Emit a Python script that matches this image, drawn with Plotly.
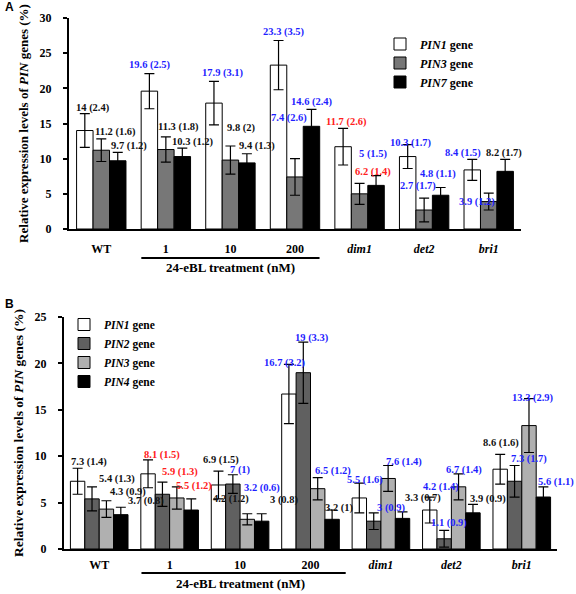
import plotly.graph_objects as go

# ---------------- data ----------------
groups = ["WT", "1", "10", "200", "dim1", "det2", "bri1"]
group_ticks = ["WT", "1", "10", "200", "<i>dim1</i>", "<i>det2</i>", "<i>bri1</i>"]

# Panel A: PIN1, PIN3, PIN7 (mean, SD)
a_pin1 = [14, 19.6, 17.9, 23.3, 11.7, 10.3, 8.4]
a_pin1_sd = [2.4, 2.5, 3.1, 3.5, 2.6, 1.7, 1.5]
a_pin3 = [11.2, 11.3, 9.8, 7.4, 5, 2.7, 3.9]
a_pin3_sd = [1.6, 1.8, 2, 2.6, 1.5, 1.7, 1.2]
a_pin7 = [9.7, 10.3, 9.4, 14.6, 6.2, 4.8, 8.2]
a_pin7_sd = [1.2, 1.2, 1.3, 2.4, 1.4, 1.1, 1.7]
# label colour class: k = black, b = blue, r = red
a_pin1_sig = ["k", "b", "b", "b", "r", "b", "b"]
a_pin3_sig = ["k", "k", "k", "b", "b", "b", "b"]
a_pin7_sig = ["k", "k", "k", "b", "r", "b", "k"]

# Panel B: PIN1, PIN2, PIN3, PIN4 (mean, SD)
b_pin1 = [7.3, 8.1, 6.9, 16.7, 5.5, 4.2, 8.6]
b_pin1_sd = [1.4, 1.5, 1.5, 3.2, 1.6, 1.4, 1.6]
b_pin2 = [5.4, 5.9, 7, 19, 3, 1.1, 7.3]
b_pin2_sd = [1.3, 1.3, 1, 3.3, 0.9, 0.9, 1.7]
b_pin3 = [4.3, 5.5, 3.2, 6.5, 7.6, 6.7, 13.3]
b_pin3_sd = [0.9, 1.2, 0.6, 1.2, 1.4, 1.4, 2.9]
b_pin4 = [3.7, 4.2, 3, 3.2, 3.3, 3.9, 5.6]
b_pin4_sd = [0.8, 1.2, 0.8, 1, 0.7, 0.9, 1.1]
b_pin1_sig = ["k", "r", "k", "b", "b", "b", "k"]
b_pin2_sig = ["k", "r", "b", "b", "b", "b", "b"]
b_pin3_sig = ["k", "r", "b", "b", "b", "b", "b"]
b_pin4_sig = ["k", "k", "k", "k", "k", "k", "b"]

treatment_label = "24-eBL treatment (nM)"
ytitle = "Relative expression levels of <i>PIN</i> genes (%)"

# ---------------- styles ----------------
SERIF = "Liberation Serif"
SANS = "Liberation Sans"
COLMAP = {"k": "#111111", "b": "#1f1fff", "r": "#ff2020"}

# label pixel nudges (xshift, yshift) relative to error-bar top
a_nudge = [
    [(8, 6), (1, 9), (9, 8), (5, 9), (3, 6), (3.5, 2), (-9, 6)],
    [(14, 7), (13, 10), (11, 18), (-6, 41), (13, 29), (-6, 12), (-12, -9)],
    [(11, 6), (11, 6), (10, 8), (1, 7), (-3, 4), (-2.5, 13.5), (-1, 6)],
]
b_nudge = [
    [(11, 6), (14, 5), (3, 11), (-4, 1), (6, 3), (11, 10), (1, 11)],
    [(25, 8), (18, 10), (8, 5), (9, 4), (17, 5), (4.5, 7), (14, 6)],
    [(22, 9), (17, 1), (15, 26), (15, 7), (16, 3), (5, 4), (4, 1)],
    [(25, 6), (40, 0), (22, 14), (7, 2), (20, 14), (15, 5), (13, 5)],
]

xs = list(range(len(groups)))
fig = go.Figure()
annotations = []


def add_panel(series, names, colors, sigs, nudges, xa, ya, legend, bw):
    n = len(series)
    for k, ((vals, sds), name, col, sig, nud) in enumerate(zip(series, names, colors, sigs, nudges)):
        off = (k - n / 2) * bw
        fig.add_trace(go.Bar(
            x=xs, y=vals, name=name, width=bw, offset=off,
            marker=dict(color=col, line=dict(color="black", width=1)),
            error_y=dict(type="data", array=sds, visible=True, color="black",
                         thickness=1.2, width=5),
            xaxis=xa, yaxis=ya, legend=legend,
        ))
        for g, (v, s, c, (dx, dy)) in enumerate(zip(vals, sds, sig, nud)):
            annotations.append(dict(
                x=g + off + bw / 2, y=v + s, xref=xa, yref=ya,
                text=f"<b>{v:g} ({s:g})</b>", showarrow=False,
                xanchor="center", yanchor="middle", xshift=dx, yshift=dy,
                font=dict(family=SERIF, size=10.5, color=COLMAP[c]),
            ))


add_panel([(a_pin1, a_pin1_sd), (a_pin3, a_pin3_sd), (a_pin7, a_pin7_sd)],
          ["<b><i>PIN1</i> gene</b>", "<b><i>PIN3</i> gene</b>", "<b><i>PIN7</i> gene</b>"],
          ["white", "#777777", "black"],
          [a_pin1_sig, a_pin3_sig, a_pin7_sig], a_nudge, "x", "y", "legend", 0.255)
add_panel([(b_pin1, b_pin1_sd), (b_pin2, b_pin2_sd), (b_pin3, b_pin3_sd), (b_pin4, b_pin4_sd)],
          ["<b><i>PIN1</i> gene</b>", "<b><i>PIN2</i> gene</b>", "<b><i>PIN3</i> gene</b>", "<b><i>PIN4</i> gene</b>"],
          ["white", "#606060", "#b0b0b0", "black"],
          [b_pin1_sig, b_pin2_sig, b_pin3_sig, b_pin4_sig], b_nudge, "x2", "y2", "legend2", 0.2045)

W, H = 576, 594


def xaxis_style(standoff):
    return dict(range=[-0.5, 6.5], tickvals=xs, ticktext=[f"<b>{t}</b>" for t in group_ticks],
                showline=True, linecolor="black", linewidth=2, ticks="", showgrid=False,
                zeroline=False, automargin=False,
                tickfont=dict(family=SERIF, size=12, color="black", weight="bold"),
                ticklabelstandoff=standoff)


def yaxis_style(title_size):
    return dict(showline=True, linecolor="black", linewidth=2, ticks="outside", ticklen=4,
                tickwidth=1.5, tickcolor="black", showgrid=False, zeroline=False, dtick=5,
                automargin=False,
                tickfont=dict(family=SERIF, size=12, color="black", weight="bold"),
                ticklabelstandoff=9,
                title=dict(text=f"<b>{ytitle}</b>",
                           font=dict(family=SERIF, size=title_size, color="black"),
                           standoff=8))


fig.update_layout(
    template="none",
    width=W, height=H, margin=dict(l=0, r=0, t=0, b=0, autoexpand=False),
    paper_bgcolor="white", plot_bgcolor="white",
    barmode="overlay",
    xaxis=dict(domain=[69 / W, 521 / W], anchor="y", **xaxis_style(8)),
    yaxis=dict(domain=[1 - 229 / H, 1 - 18 / H], range=[0, 30], anchor="x", **yaxis_style(13)),
    xaxis2=dict(domain=[64 / W, 557 / W], anchor="y2", **xaxis_style(4)),
    yaxis2=dict(domain=[1 - 549 / H, 1 - 317 / H], range=[0, 25], anchor="x2", **yaxis_style(13.5)),
    legend=dict(x=380 / W, y=1 - 29.5 / H, xanchor="left", yanchor="top",
                font=dict(family=SERIF, size=12, color="black"), bgcolor="rgba(0,0,0,0)",
                tracegroupgap=0),
    legend2=dict(x=64 / W, y=1 - 310 / H, xanchor="left", yanchor="top",
                 font=dict(family=SERIF, size=11.5, color="black"), bgcolor="rgba(0,0,0,0)",
                 tracegroupgap=0),
    showlegend=True,
)

# treatment bracket lines and labels
fig.add_shape(type="line", xref="x", yref="paper", x0=0.62, x1=3.38,
              y0=1 - 258 / H, y1=1 - 258 / H, line=dict(color="black", width=2))
fig.add_shape(type="line", xref="x2", yref="paper", x0=0.6, x1=3.5,
              y0=1 - 573 / H, y1=1 - 573 / H, line=dict(color="black", width=2))
annotations.append(dict(x=2, y=1 - 268 / H, xref="x", yref="paper", text=f"<b>{treatment_label}</b>",
                        showarrow=False, xanchor="center", yanchor="middle",
                        font=dict(family=SERIF, size=13, color="black")))
annotations.append(dict(x=2, y=1 - 583 / H, xref="x2", yref="paper", text=f"<b>{treatment_label}</b>",
                        showarrow=False, xanchor="center", yanchor="middle",
                        font=dict(family=SERIF, size=13, color="black")))
# panel letters
annotations.append(dict(x=3 / W, y=1 - 7 / H, xref="paper", yref="paper", text="<b>A</b>",
                        showarrow=False, xanchor="left", yanchor="middle",
                        font=dict(family=SANS, size=12, color="black")))
annotations.append(dict(x=3 / W, y=1 - 304 / H, xref="paper", yref="paper", text="<b>B</b>",
                        showarrow=False, xanchor="left", yanchor="middle",
                        font=dict(family=SANS, size=12, color="black")))

fig.update_layout(annotations=annotations)
fig.write_html("out.html", config={"displayModeBar": False},
               post_script="document.body.style.margin='0';document.body.style.overflow='hidden';")
